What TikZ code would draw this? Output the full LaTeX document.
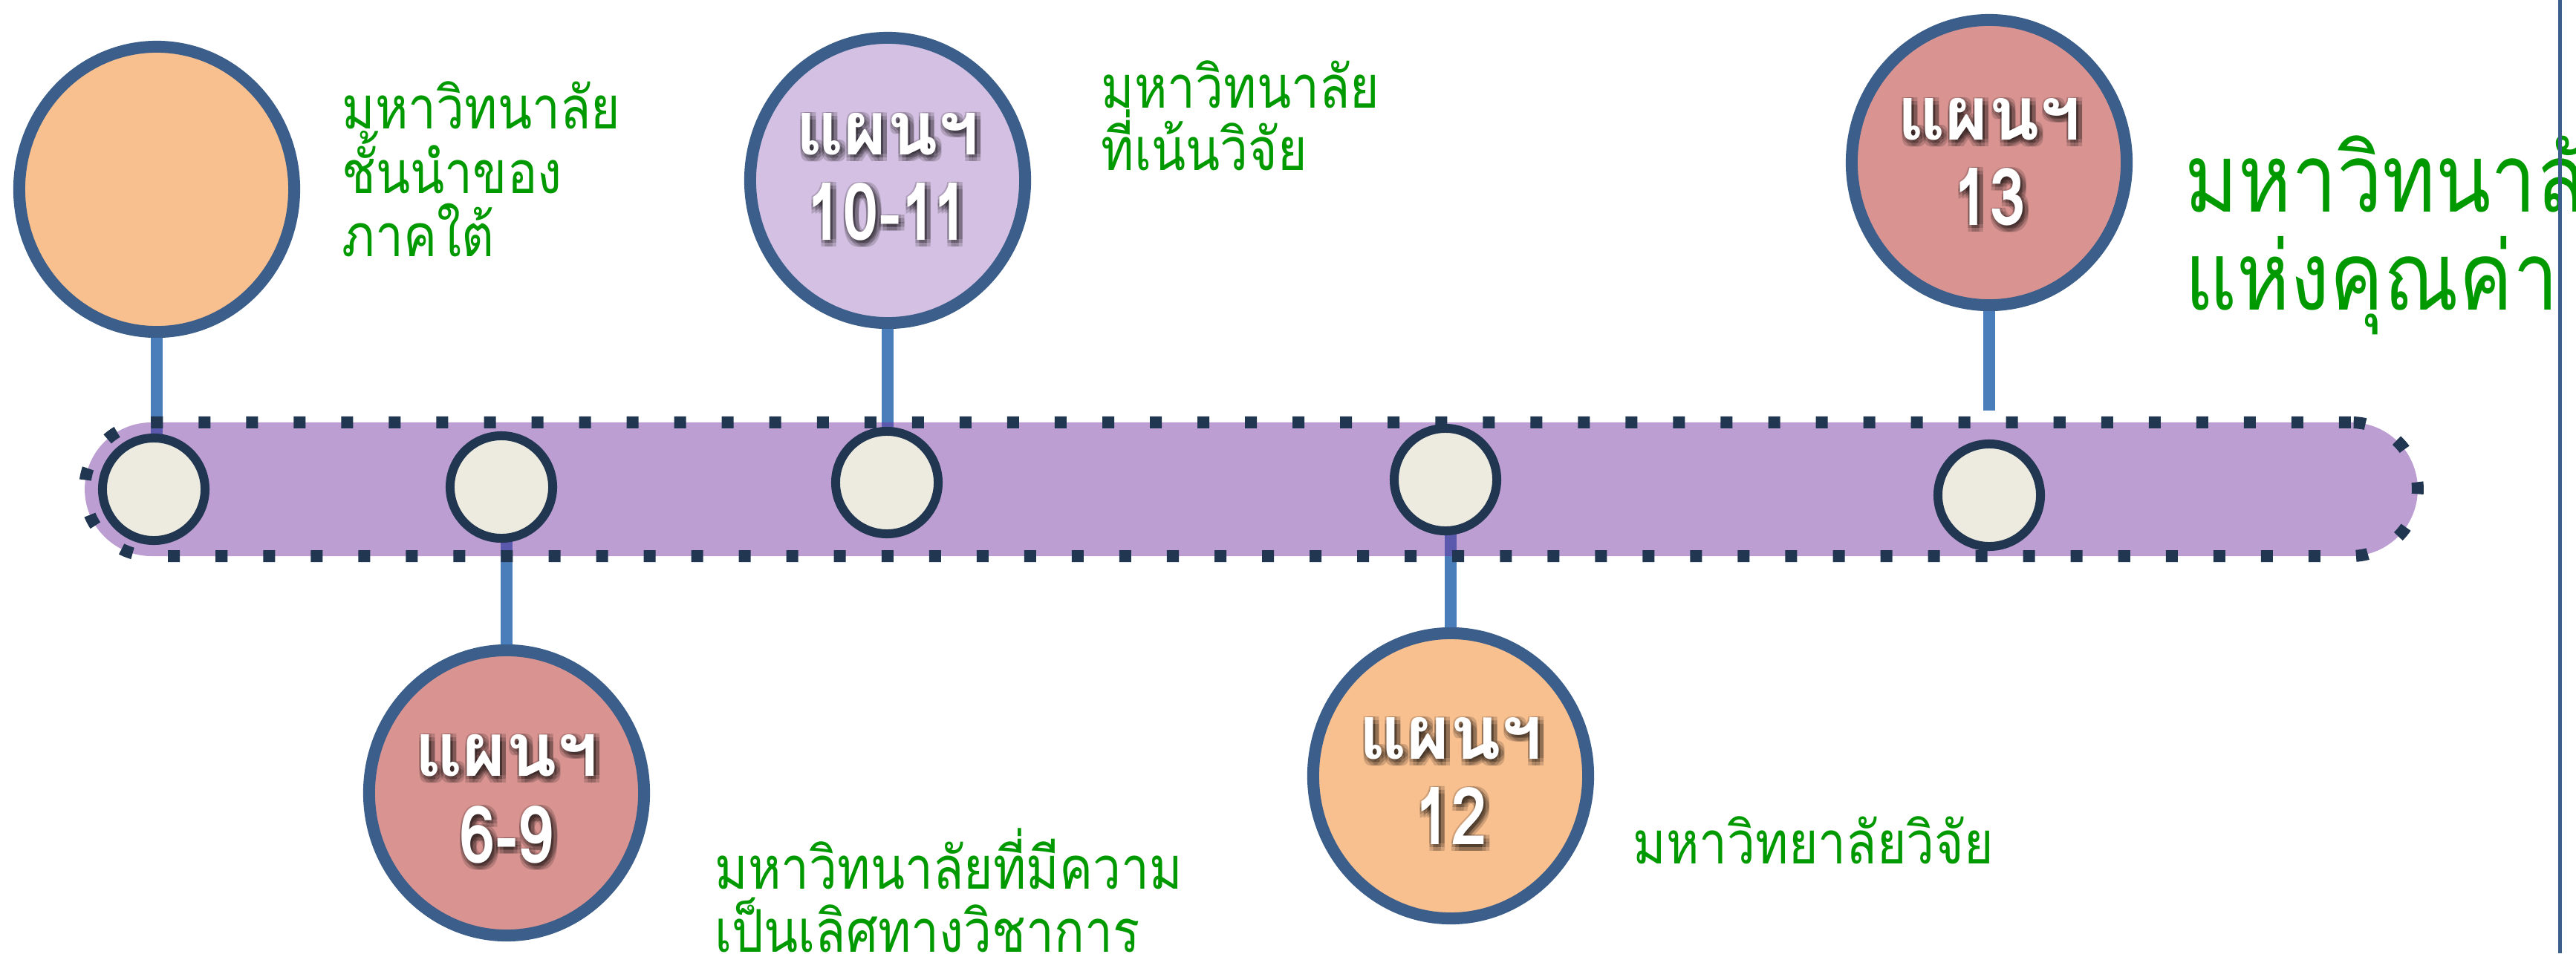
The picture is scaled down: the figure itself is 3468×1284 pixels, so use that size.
\documentclass[tikz,border=0pt]{standalone}
\usepackage{fontspec}
\newfontfamily\thai[Script=Thai, FakeStretch=0.85]{Loma}
\newfontfamily\thailab[Script=Thai]{Loma}
\newfontfamily\digitfont[FakeStretch=0.82]{Loma}
\usetikzlibrary{shapes.geometric}
\definecolor{ringblue}{RGB}{59,94,138}
\definecolor{linkblue}{RGB}{74,126,187}
\definecolor{navy}{RGB}{33,54,80}
\definecolor{bandpurple}{RGB}{112,48,160}
\definecolor{cream}{RGB}{237,235,224}
\definecolor{peach}{RGB}{248,191,143}
\definecolor{rose}{RGB}{217,148,146}
\definecolor{lilac}{RGB}{211,192,226}
\definecolor{tgreen}{RGB}{0,153,0}
\newcommand\shadowlabel[4][plab]{%
  \foreach \dx/\dy in {-2/-1,3/-1,8/-1,-2/4,3/4,8/4,-2/9,3/9,8/9}{%
    \node[#1, text=black, text opacity=0.16] at ([shift={(\dx,\dy)}]#3) {#4};}%
  \node[#1] (#2) at (#3) {#4};}
\begin{document}
\begin{tikzpicture}[x=0.01cm,y=-0.01cm,
  bigc/.style={ellipse, draw=ringblue, line width=0.16cm, minimum width=3.70cm, minimum height=3.84cm, inner sep=0pt},
  smallc/.style={circle, draw=navy, fill=cream, line width=0.12cm, minimum size=1.38cm, inner sep=0pt},
  link/.style={draw=linkblue, line width=0.16cm},
  band/.style={rectangle, rounded corners=0.899cm, minimum width=31.39cm, minimum height=1.80cm, fill=bandpurple, fill opacity=0.47, draw=navy, line width=0.16cm, dash pattern=on 0.16cm off 0.48cm, inner sep=0pt},
  note/.style={anchor=base west, inner sep=0pt, text=tgreen, font=\thai\fontsize{22.6}{27}\selectfont},
  bignote/.style={anchor=base west, inner sep=0pt, text=tgreen, font=\thai\fontsize{36.4}{43}\selectfont},
  plab/.style={anchor=base, inner sep=0pt, text=white, font=\thailab\bfseries\fontsize{28.45}{34}\selectfont},
  plabnum/.style={plab, font=\digitfont\bfseries\fontsize{30.5}{36}\selectfont},
  divider/.style={draw=ringblue, line width=0.05cm}]
\useasboundingbox (0,0) rectangle (3468,1284);
\clip (0,0) rectangle (3468,1284);
% big circles
\node[bigc, fill=peach] (c1) at (211,255) {};
\node[bigc, fill=rose]  (c2) at (682,1068) {};
\node[bigc, fill=lilac] (c3) at (1195,243) {};
\node[bigc, fill=peach] (c4) at (1953,1045) {};
\node[bigc, fill=rose]  (c5) at (2678,219) {};
% small circle positions (drawn later)
\coordinate (p1) at (207,659);
\coordinate (p2) at (675,656);
\coordinate (p3) at (1194,650);
\coordinate (p4) at (1946,646);
\coordinate (p5) at (2678,667);
\coordinate (e5) at (2678,553);
% connectors
\draw[link] (c1.south) -- (c1.south |- p1);
\draw[link] (c2.north) -- (c2.north |- p2);
\draw[link] (c3.south) -- (c3.south |- p3);
\draw[link] (c4.north) -- (c4.north |- p4);
\draw[link] (c5.south) -- (e5);
% band
\node[band] (band) at (1684.5,659) {};
% small circles
\node[smallc] (s1) at (p1) {};
\node[smallc] (s2) at (p2) {};
\node[smallc] (s3) at (p3) {};
\node[smallc] (s4) at (p4) {};
\node[smallc] (s5) at (p5) {};
% labels in circles
\shadowlabel{l2a}{682,1045}{แผนฯ}
\shadowlabel[plabnum]{l2b}{682,1162}{6-9}
\shadowlabel{l3a}{1195,208}{แผนฯ}
\shadowlabel[plabnum]{l3b}{1195,323}{10-11}
\shadowlabel{l4a}{1953,1022}{แผนฯ}
\shadowlabel[plabnum]{l4b}{1953,1137}{12}
\shadowlabel{l5a}{2678,188}{แผนฯ}
\shadowlabel[plabnum]{l5b}{2678,303}{13}
% green notes
\node[note] (t1a) at (460,173) {มหาวิทนาลัย};
\node[note] (t1b) at (460,260) {ชั้นนำของ};
\node[note] (t1c) at (460,345) {ภาคใต้};
\node[note] (t2a) at (1482,145) {มหาวิทนาลัย};
\node[note] (t2b) at (1482,229) {ที่เน้นวิจัย};
\node[note] (t4a) at (962,1197) {มหาวิทนาลัยที่มีความ};
\node[note] (t4b) at (962,1282) {เป็นเลิศทางวิชาการ};
\node[note] (t5) at (2198,1163) {มหาวิทยาลัยวิจัย};
\node[bignote] (t3a) at (2941,285) {มหาวิทนาลัย};
\node[bignote] (t3b) at (2941,417) {แห่งคุณค่า};
% divider
\coordinate (vt) at (3446,0);
\coordinate (vb) at (3446,1284);
\draw[divider] (vt) -- (vb);
\end{tikzpicture}
\end{document}
